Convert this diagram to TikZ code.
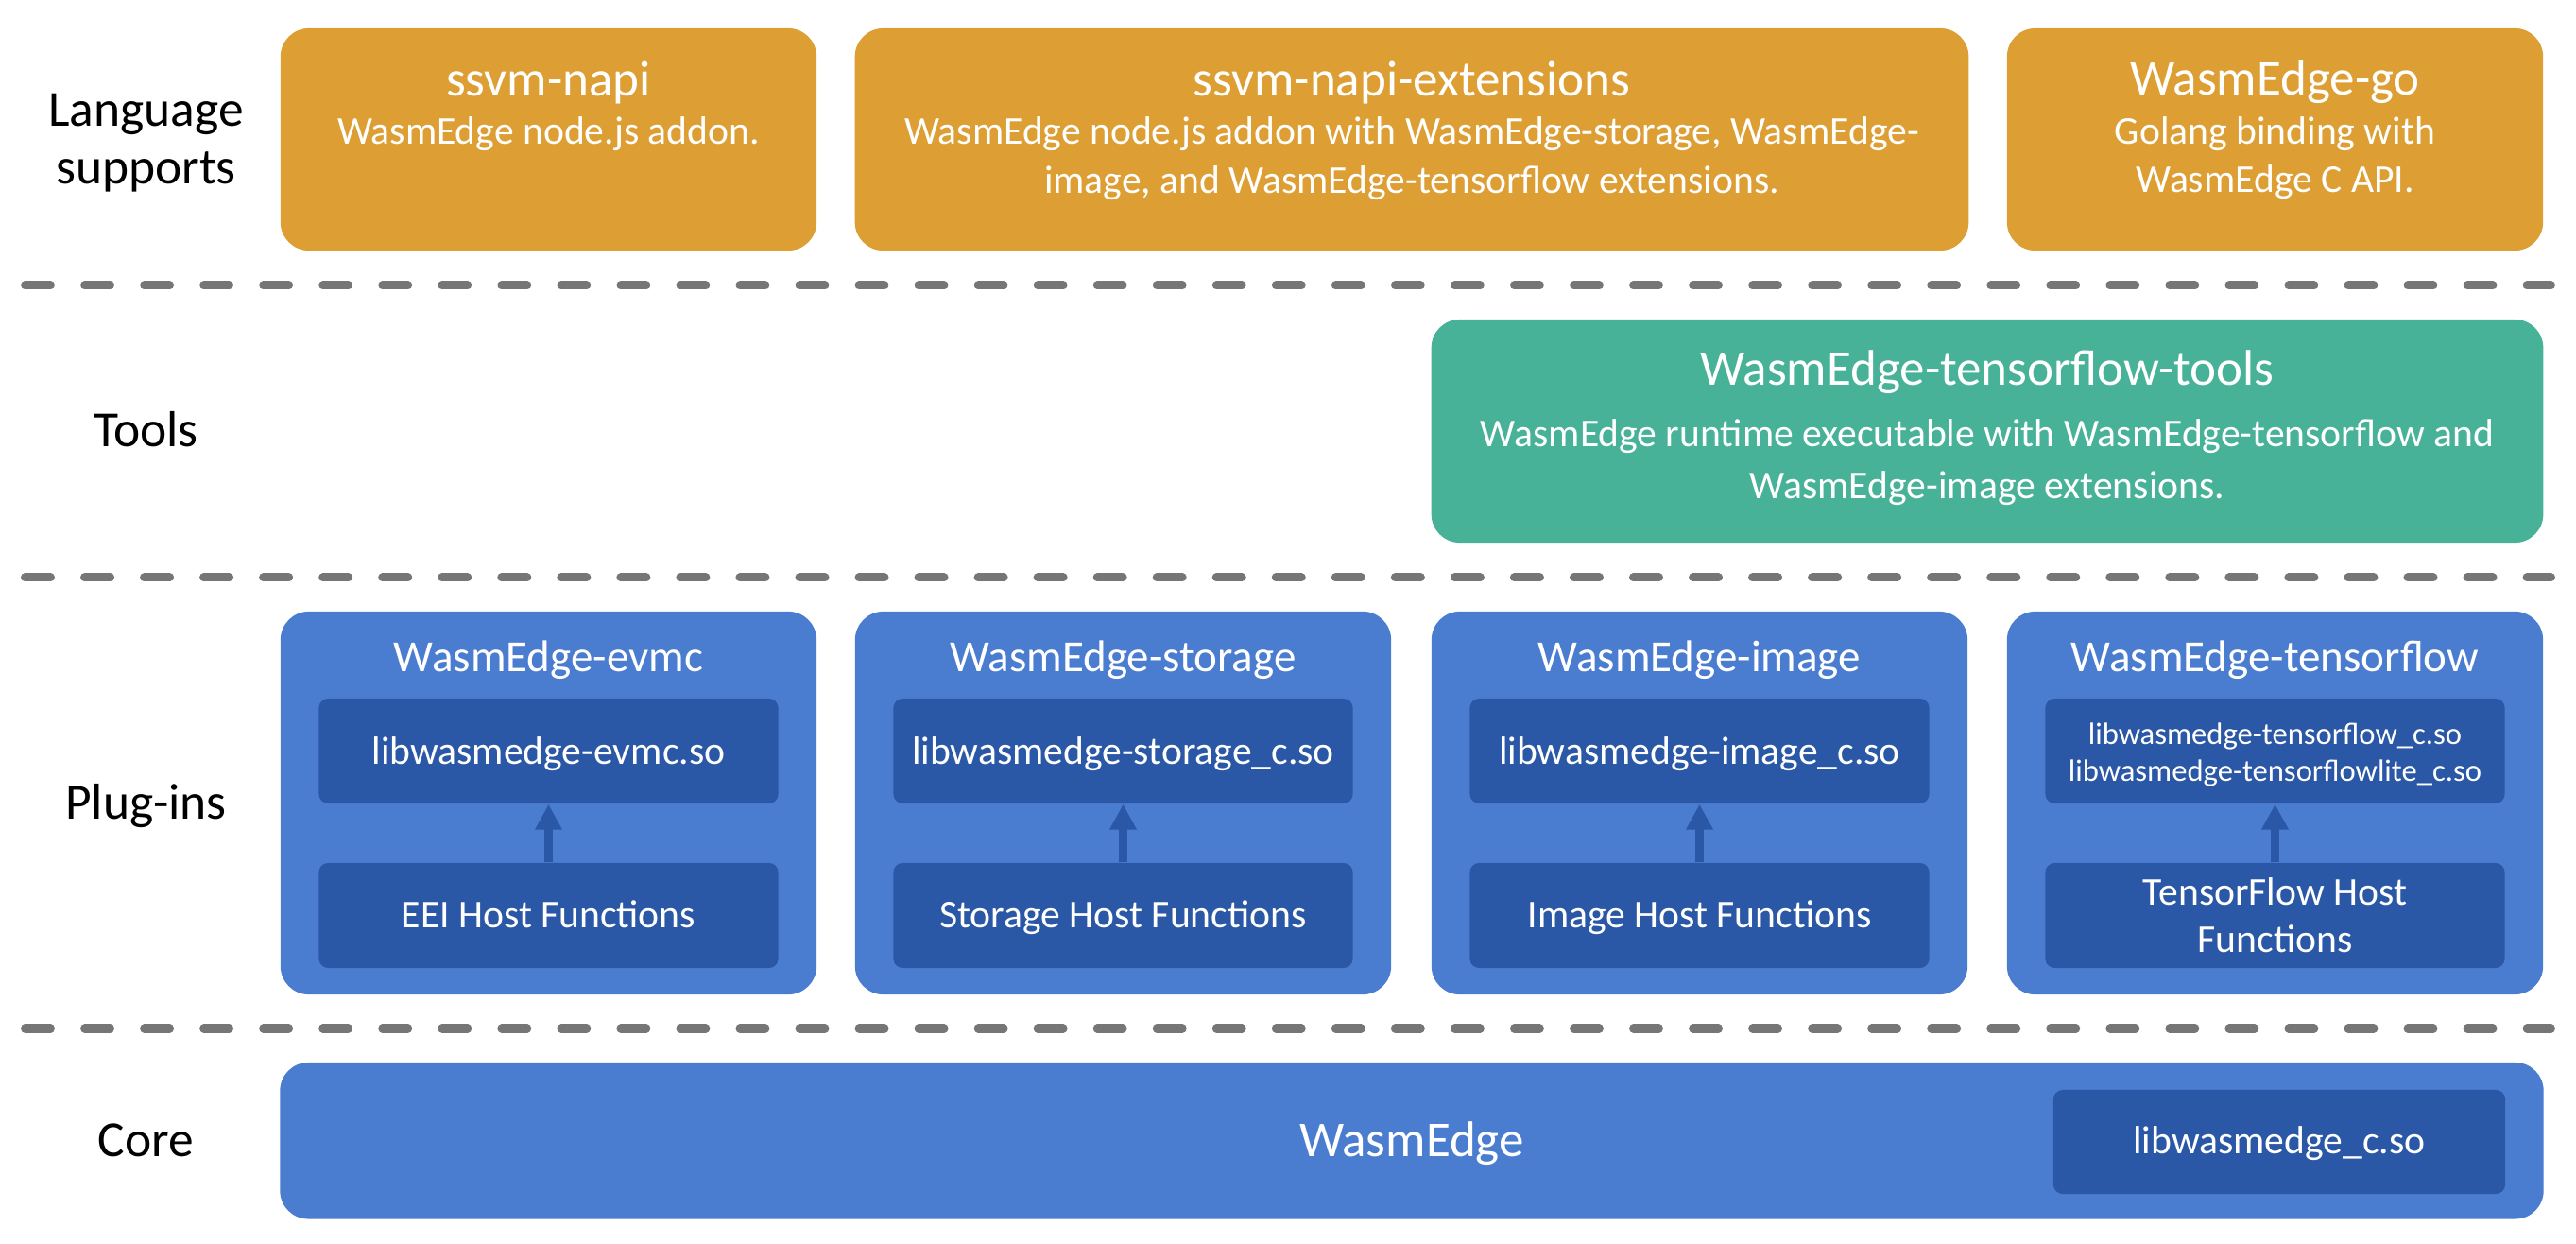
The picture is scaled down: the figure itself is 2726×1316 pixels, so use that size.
\documentclass[tikz,border=0pt]{standalone}
\usepackage{fontspec}
\setmainfont{Carlito}
\usetikzlibrary{arrows.meta}
\definecolor{orng}{HTML}{DD9E33}
\definecolor{tealbox}{HTML}{48B298}
\definecolor{blu}{HTML}{4A7CD0}
\definecolor{dblu}{HTML}{2B58A6}
\definecolor{dashgray}{HTML}{767676}
\tikzset{
 box/.style={rectangle, rounded corners=0.3cm, inner sep=0pt, draw=none},
 langbox/.style={box, fill=orng, minimum height=2.35cm},
 toolbox/.style={box, fill=tealbox},
 plugbox/.style={box, fill=blu, minimum width=5.67cm, minimum height=4.05cm},
 innerbox/.style={rectangle, rounded corners=0.1cm, inner sep=0pt, fill=dblu, minimum width=4.86cm, minimum height=1.11cm},
 txt/.style={anchor=base, inner sep=0pt, text=white},
 ttl/.style={txt, font=\fontsize{15.08}{18}\selectfont},
 ptl/.style={txt, font=\fontsize{13.37}{16}\selectfont},
 ntxt/.style={txt, font=\fontsize{11.84}{14}\selectfont},
 stxt/.style={txt, font=\fontsize{9.28}{11}\selectfont},
 layer/.style={anchor=base, inner sep=0pt, text=black, font=\fontsize{15.2}{18}\selectfont},
 divider/.style={dashgray, line width=0.09cm, line cap=round, dash pattern=on 0.27cm off 0.36cm},
 uparrow/.style={dblu, line width=0.09cm, -{Triangle[width=0.27cm 0 0,length=0.27cm 0 0]}},
}
\begin{document}
\begin{tikzpicture}[x=0.01cm,y=-0.01cm]
\useasboundingbox (0,0) rectangle (2726,1316);

% layer labels
\node[layer] (lLang1) at (154.5,133.5) {Language};
\node[layer] (lLang2) at (154.5,195) {supports};
\node[layer] (lTools) at (154.5,472.5) {Tools};
\node[layer] (lPlug) at (154.5,867) {Plug-ins};
\node[layer] (lCore) at (154.5,1224) {Core};

% dividers
\coordinate (d1a) at (26.5,302); \coordinate (d1b) at (2699.5,302);
\coordinate (d2a) at (26.5,611); \coordinate (d2b) at (2699.5,611);
\coordinate (d3a) at (26.5,1088); \coordinate (d3b) at (2699.5,1088);
\draw[divider] (d1a) -- (d1b);
\draw[divider] (d2a) -- (d2b);
\draw[divider] (d3a) -- (d3b);

% language supports
\node[langbox, minimum width=5.67cm] (napi) at (580.5,147.5) {};
\node[ttl] (napiT) at (580.5,101.6) {ssvm-napi};
\node[ntxt] (napiD) at (580.5,153) {WasmEdge node.js addon.};

\node[langbox, minimum width=11.78cm] (ext) at (1494,147.5) {};
\node[ttl] (extT) at (1494,101.6) {ssvm-napi-extensions};
\node[ntxt] (extD1) at (1494,153) {WasmEdge node.js addon with WasmEdge-storage, WasmEdge-};
\node[ntxt] (extD2) at (1494,205) {image, and WasmEdge-tensorflow extensions.};

\node[langbox, minimum width=5.67cm] (go) at (2407.5,147.5) {};
\node[ttl] (goT) at (2407.5,101) {WasmEdge-go};
\node[ntxt] (goD1) at (2407.5,153) {Golang binding with};
\node[ntxt] (goD2) at (2407.5,204) {WasmEdge C API.};

% tools
\node[toolbox, minimum width=11.76cm, minimum height=2.36cm] (tools) at (2103,456) {};
\node[ttl] (toolsT) at (2103,408) {WasmEdge-tensorflow-tools};
\node[ntxt] (toolsD1) at (2103,472.5) {WasmEdge runtime executable with WasmEdge-tensorflow and};
\node[ntxt] (toolsD2) at (2103,527.5) {WasmEdge-image extensions.};

% plug-ins
\node[plugbox] (evmc) at (580.5,849.5) {};
\node[ptl] (evmcT) at (580.5,711) {WasmEdge-evmc};
\node[innerbox] (evmcLib) at (580.5,794.5) {};
\node[ntxt] at (580.5,808.6) {libwasmedge-evmc.so};
\node[innerbox] (evmcHost) at (580.5,968.5) {};
\node[ntxt] at (580.5,982) {EEI Host Functions};
\draw[uparrow] (evmcHost.north) -- (evmcLib.south);

\node[plugbox] (stor) at (1188.5,849.5) {};
\node[ptl] (storT) at (1188.5,711) {WasmEdge-storage};
\node[innerbox] (storLib) at (1188.5,794.5) {};
\node[ntxt] at (1188.5,808.6) {libwasmedge-storage\_c.so};
\node[innerbox] (storHost) at (1188.5,968.5) {};
\node[ntxt] at (1188.5,982) {Storage Host Functions};
\draw[uparrow] (storHost.north) -- (storLib.south);

\node[plugbox] (img) at (1798.5,849.5) {};
\node[ptl] (imgT) at (1798.5,711) {WasmEdge-image};
\node[innerbox] (imgLib) at (1798.5,794.5) {};
\node[ntxt] at (1798.5,808.6) {libwasmedge-image\_c.so};
\node[innerbox] (imgHost) at (1798.5,968.5) {};
\node[ntxt] at (1798.5,982) {Image Host Functions};
\draw[uparrow] (imgHost.north) -- (imgLib.south);

\node[plugbox] (tf) at (2407.5,849.5) {};
\node[ptl] (tfT) at (2407.5,711) {WasmEdge-tensorflow};
\node[innerbox] (tfLib) at (2407.5,794.5) {};
\node[stxt] at (2407.5,787.8) {libwasmedge-tensorflow\_c.so};
\node[stxt] at (2407.5,826.4) {libwasmedge-tensorflowlite\_c.so};
\node[innerbox] (tfHost) at (2407.5,968.5) {};
\node[ntxt] at (2407.5,957.4) {TensorFlow Host};
\node[ntxt] at (2407.5,1007.5) {Functions};
\draw[uparrow] (tfHost.north) -- (tfLib.south);

% core
\node[box, fill=blu, minimum width=23.94cm, minimum height=1.655cm] (core) at (1494,1206.75) {};
\node[ttl] (coreT) at (1494,1223.7) {WasmEdge};
\node[innerbox, minimum width=4.78cm, minimum height=1.10cm] (coreLib) at (2412,1208) {};
\node[ntxt] at (2412,1221) {libwasmedge\_c.so};
\end{tikzpicture}
\end{document}
